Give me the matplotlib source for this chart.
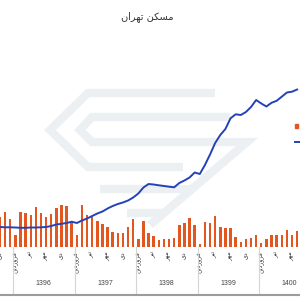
import matplotlib.pyplot as plt
import numpy as np
from matplotlib.transforms import blended_transform_factory
from matplotlib.patches import Rectangle

#----------------------------------------------------------------------|
# Data (month index 0 = Farvardin 1396)

months = np.arange(-3, 56)
# monthly deals (thousand)
deals = [12.0, 14.0, 11.2,
         4.8, 14.0, 13.6, 13.0, 16.0, 13.6, 12.2, 13.2, 15.6, 16.8, 16.6, 10.0,
         4.8, 16.8, 12.8, 12.0, 10.5, 9.2, 8.1, 6.1, 5.7, 5.7, 8.1, 11.3,
         3.1, 10.6, 5.5, 4.4, 2.8, 3.1, 3.3, 3.5, 8.7, 9.5, 11.6, 8.9,
         1.2, 10.0, 9.5, 12.3, 7.9, 7.7, 7.7, 3.9, 2.1, 3.1, 3.5, 4.8,
         1.7, 3.3, 4.7, 4.7, 4.7, 6.8, 4.7, 6.5]
# mean price (million toman / m2)
price = [4.0, 3.94, 3.94,
         3.9, 3.84, 3.84, 3.9, 3.9, 3.94, 4.0, 4.2, 4.5, 4.64, 4.8, 5.06,
         4.8, 5.3, 5.7, 6.2, 6.7, 7.1, 7.7, 8.2, 8.6, 8.9, 9.3, 9.9,
         10.7, 11.9, 12.6, 12.5, 12.34, 12.2, 12.06, 11.94, 12.8, 13.3, 13.9, 14.9,
         14.6, 16.4, 18.5, 20.8, 22.4, 23.6, 25.74, 26.54, 26.4, 27.0, 28.0, 29.4,
         28.7, 28.1, 28.84, 29.24, 30.06, 30.9, 31.06, 31.5]
years = ['1396', '1397', '1398', '1399', '1400']

# Persian labels in presentation forms (visual order, matplotlib has no shaping)
title = '\ufee5\ufe8d\ufeae\ufeec\ufe97 \ufee6\ufb91\ufeb4\ufee3'   # مسکن تهران
month_names = {0: '\ufee6\ufbfe\ufea9\ufead\ufeed\ufeae\ufed3',   # فروردین
               3: '\ufeae\ufbff\ufe97',                           # تیر
               6: '\ufeae\ufeec\ufee3',                           # مهر
               9: '\ufbfc\ufea9'}                                 # دی

orange = '#e4561f'
blue = '#2442b8'

#----------------------------------------------------------------------|
# Plot

fig = plt.figure(figsize=(3, 3), dpi=100)

# background layer (pixel coords): watermark, bottom rule, legend keys
bg = fig.add_axes([0, 0, 1, 1], zorder=0)
bg.set_xlim(0, 300)
bg.set_ylim(300, 0)
bg.axis('off')
wm = '#edf0f3'
for xs, ys in [((215, 88, 50, 88, 183), (93, 93, 130, 167, 167)),
               ((230, 92, 80, 92, 247, 150), (117, 117, 130, 142, 142, 225)),
               ((100, 192), (189, 189)),
               ((127, 165), (213, 213))]:
    bg.plot(xs, ys, color=wm, lw=6, solid_joinstyle='miter', solid_capstyle='butt')
bg.plot([0, 300], [294.5, 294.5], color='#9c9c9c', lw=1.5)
bg.add_patch(Rectangle((295, 124.3), 3.4, 3.4, color=orange))
bg.plot([295, 305], [141.7, 141.7], color=blue, lw=1.4)

ax = fig.add_axes([0, 53/300, 1, 207/300], zorder=1)
ax.patch.set_visible(False)
ax.bar(months, deals, width=0.48, color=orange)
ax.set_xlim(-2.58, 55.56)
ax.set_ylim(0, 82.8)
for s in ax.spines.values():
    s.set_visible(False)
ax.set_yticks([])

ticks = [m for m in months if m % 12 in month_names]
ax.set_xticks(ticks)
ax.set_xticklabels([month_names[m % 12] for m in ticks], family='DejaVu Sans')
ax.tick_params(axis='x', length=0, pad=3, labelsize=4.5, labelrotation=90,
               labelcolor='#333333')

trans = blended_transform_factory(ax.transData, ax.transAxes)
for k, yr in enumerate(years):
    ax.text(12*k + 5.5, -0.174, yr, transform=trans, ha='center', va='center',
            fontsize=5, family='Liberation Sans', color='#444444')
    ax.plot([12*k - 0.4]*2, [0, -0.222], transform=trans, color='#d4d4d4',
            lw=0.8, clip_on=False)

ax2 = ax.twinx()
ax2.patch.set_visible(False)
ax2.plot(months, price, color=blue, lw=1.4)
ax2.set_ylim(0, 41.4)
ax2.set_yticks([])
for s in ax2.spines.values():
    s.set_visible(False)

fig.text(147/300, 1 - 17/300, title, ha='center', va='center', fontsize=7,
         family='DejaVu Sans', color='#333333')

fig.savefig('out.png', dpi=100)
